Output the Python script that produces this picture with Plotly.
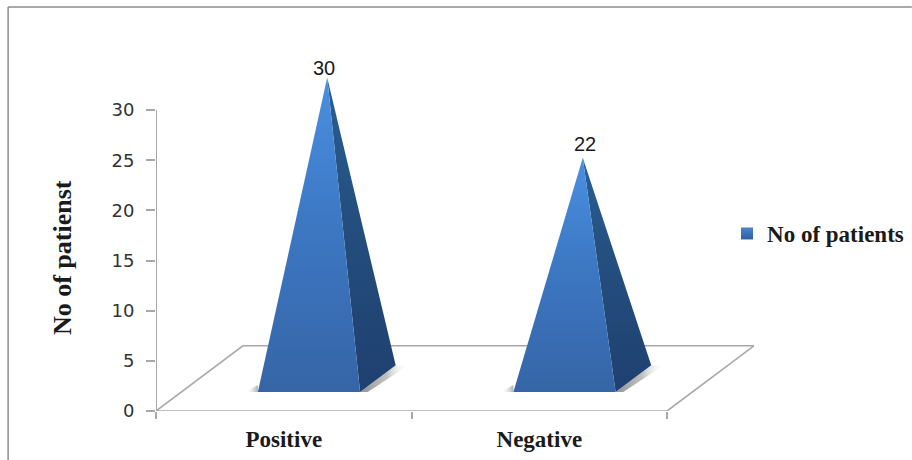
import plotly.graph_objects as go

# Chart data
categories = ["Positive", "Negative"]
patients = [30, 22]
y_ticks = [0, 5, 10, 15, 20, 25, 30]
series_name = "No of patients"
y_title = "No of patienst"

# Page geometry
WIDTH, HEIGHT = 912, 460
PLOT_LEFT, PLOT_RIGHT = 155.5, 754
PLOT_BOTTOM, PLOT_TOP = 411, 60
PX_PER_CATEGORY = 255.75
PX_PER_UNIT = 10.03

# Oblique projection of the floor depth (z runs 0..1 from front to back)
DEPTH_X = 0.34
DEPTH_Y = 6.5
BASE_FRONT, BASE_BACK = 0.29, 0.70
HALF_WIDTH = 0.2

LINE_GREY = "#a8a8a8"
SERIF = "Liberation Serif"

# Pixel nudges for the value labels
label_shift_x = [-3, 2]
label_shift_y = [-3, 1]

plot_w = PLOT_RIGHT - PLOT_LEFT
plot_h = PLOT_BOTTOM - PLOT_TOP
y_top = plot_h / PX_PER_UNIT


def project(x, y, z):
    return x + z * DEPTH_X, y + z * DEPTH_Y


def paper_x(px):
    return (px - PLOT_LEFT) / plot_w


def paper_y(py):
    return (PLOT_BOTTOM - py) / plot_h


def polygon(points, **kwargs):
    xs = [p[0] for p in points] + [points[0][0]]
    ys = [p[1] for p in points] + [points[0][1]]
    return go.Scatter(x=xs, y=ys, mode="lines", fill="toself", showlegend=False,
                      hoverinfo="skip", cliponaxis=False, **kwargs)


def edge(points, width=1.6):
    return go.Scatter(x=[p[0] for p in points], y=[p[1] for p in points], mode="lines",
                      line=dict(color=LINE_GREY, width=width), showlegend=False,
                      hoverinfo="skip", cliponaxis=False)


fig = go.Figure()

# Floor of the 3D box, then the value axis line
n = len(categories)
fig.add_trace(edge([project(0, 0, 0), project(0, 0, 1), project(n, 0, 1),
                    project(n, 0, 0), (0, 0)]))
fig.add_trace(edge([(0, y_ticks[0]), (0, y_ticks[-1])], width=2))

no_line = dict(width=0, color="rgba(0,0,0,0)")

# The value axis title is centred on the axis itself, not on the taller plot area
annotations = [dict(
    x=paper_x(62), y=paper_y(257.5), xref="paper", yref="paper",
    text=y_title, textangle=-90, showarrow=False,
    xanchor="center", yanchor="middle",
    font=dict(family=SERIF, size=26, color="#1a1a1a", weight="bold"),
)]

for i, value in enumerate(patients):
    cx = i + 0.5
    front_l = project(cx - HALF_WIDTH, 0, BASE_FRONT)
    front_r = project(cx + HALF_WIDTH, 0, BASE_FRONT)
    back_r = project(cx + HALF_WIDTH, 0, BASE_BACK)
    apex = project(cx, value, 0.5)

    # Soft contact shadows on the floor
    fig.add_trace(polygon(
        [front_r, back_r, (back_r[0] + 0.05, back_r[1]), (front_r[0] + 0.03, front_r[1])],
        line=no_line,
        fillgradient=dict(type="horizontal", colorscale=[
            [0, "rgba(110,110,110,0.75)"], [0.55, "rgba(150,150,150,0.6)"],
            [1, "rgba(255,255,255,0)"]]),
    ))
    fig.add_trace(polygon(
        [(front_l[0] - 0.05, front_l[1]), front_l, (front_l[0], front_l[1] + 0.7)],
        line=no_line,
        fillgradient=dict(type="horizontal", colorscale=[
            [0, "rgba(255,255,255,0)"], [1, "rgba(120,120,120,0.6)"]]),
    ))

    # Shaded side face and lit front face of the pyramid
    fig.add_trace(polygon(
        [front_r, back_r, apex], line=no_line,
        fillgradient=dict(type="vertical", colorscale=[
            [0, "#1f4070"], [0.6, "#24507f"], [1, "#2a5f96"]]),
    ))
    fig.add_trace(polygon(
        [front_l, front_r, apex], line=no_line,
        fillgradient=dict(type="vertical", colorscale=[
            [0, "#3565a6"], [0.55, "#3d78c4"], [1, "#4a90e0"]]),
    ))

    # Value label above the apex
    annotations.append(dict(
        x=apex[0], y=apex[1], text=str(value), showarrow=False,
        xanchor="center", yanchor="bottom",
        xshift=label_shift_x[i], yshift=label_shift_y[i],
        font=dict(family="Liberation Sans", size=20, color="#1a1a1a"),
    ))

# Legend entry
fig.add_trace(go.Scatter(
    x=[None], y=[None], mode="markers", name=series_name,
    marker=dict(symbol="square", size=12, color="#4a86d0",
                gradient=dict(type="vertical", color="#2f5f9e")),
))

frame = dict(type="line", xref="paper", yref="paper", line=dict(color="#8c8c8c", width=1.5))

fig.update_layout(
    width=WIDTH, height=HEIGHT,
    margin=dict(l=PLOT_LEFT, r=WIDTH - PLOT_RIGHT, t=PLOT_TOP, b=HEIGHT - PLOT_BOTTOM, pad=0,
                autoexpand=False),
    paper_bgcolor="white", plot_bgcolor="white",
    xaxis=dict(
        range=[0, plot_w / PX_PER_CATEGORY], showgrid=False, zeroline=False, showline=False,
        tickmode="array", tickvals=[i + 0.5 for i in range(n)], ticktext=categories,
        ticks="", ticklabelstandoff=12, automargin=False,
        tickfont=dict(family=SERIF, size=23, color="#1a1a1a", weight="bold"),
        minor=dict(tickmode="array", tickvals=list(range(n + 1)), ticks="outside",
                   ticklen=7, tickwidth=1.5, tickcolor=LINE_GREY, showgrid=False),
    ),
    yaxis=dict(
        range=[0, y_top], showgrid=False, zeroline=False, showline=False,
        tickmode="array", tickvals=y_ticks, ticks="outside", ticklen=9, tickwidth=1.5,
        tickcolor=LINE_GREY, ticklabelstandoff=8, automargin=False,
        tickfont=dict(family="DejaVu Sans", size=18, color="#333333"),
    ),
    legend=dict(
        x=paper_x(727), y=paper_y(233.5), xanchor="left", yanchor="middle",
        xref="paper", yref="paper", bgcolor="rgba(0,0,0,0)",
        font=dict(family=SERIF, size=23, color="#1a1a1a", weight="bold"),
    ),
    annotations=annotations,
    shapes=[
        dict(frame, x0=paper_x(7.5), x1=paper_x(WIDTH), y0=paper_y(7), y1=paper_y(7)),
        dict(frame, x0=paper_x(7.5), x1=paper_x(7.5), y0=paper_y(7), y1=paper_y(HEIGHT)),
    ],
    showlegend=True,
)

fig.write_html("out.html", config=dict(displayModeBar=False))
